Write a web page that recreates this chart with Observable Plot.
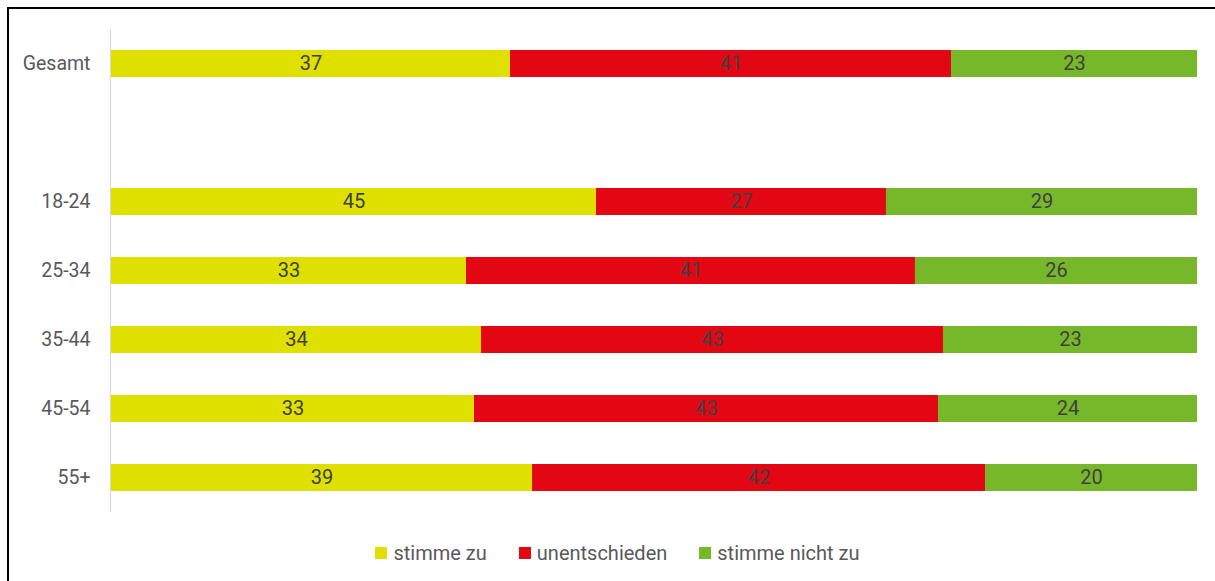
<!DOCTYPE html>
<html>
<head>
<meta charset="utf-8">
<script src="https://cdn.jsdelivr.net/npm/d3@7"></script>
<script src="https://cdn.jsdelivr.net/npm/@observablehq/plot@0.6"></script>
<style>
  html, body { margin: 0; padding: 0; background: #fff; width: 1215px; height: 581px; overflow: hidden; }
  #frame { position: absolute; left: 7px; top: 7px; width: 1210px; height: 580px; border-top: 2px solid #000; border-left: 2px solid #000; box-sizing: border-box; pointer-events: none; }
  #chart { position: absolute; left: 0; top: 0; }
  #legend { position: absolute; left: 10px; top: 541px; width: 1215px; display: flex; justify-content: center; align-items: center; font-family: Roboto, sans-serif; font-size: 20px; color: #595959; }
  #legend .item { display: flex; align-items: center; margin: 0 16px; }
  #legend .sw { width: 12px; height: 12px; margin-right: 6px; }
</style>
</head>
<body>
<div id="chart"></div>
<div id="legend"></div>
<div id="frame"></div>
<script>
const groups = ["Gesamt", "18-24", "25-34", "35-44", "45-54", "55+"];
const yDomain = ["Gesamt", " ", "18-24", "25-34", "35-44", "45-54", "55+"];
const seriesNames = ["stimme zu", "unentschieden", "stimme nicht zu"];
const seriesColors = ["#dfdf00", "#e30613", "#77b82a"];
// shares (labels show them rounded)
const stimmeZu = [36.74, 44.66, 32.69, 34.07, 33.43, 38.77];
const unentschieden = [40.61, 26.70, 41.34, 42.54, 42.73, 41.71];
const stimmeNichtZu = [22.65, 28.64, 25.97, 23.39, 23.85, 19.52];

const seriesValues = [stimmeZu, unentschieden, stimmeNichtZu];
const data = [];
groups.forEach((g, i) => {
  seriesNames.forEach((s, j) => {
    data.push({group: g, series: s, value: seriesValues[j][i]});
  });
});

const plot = Plot.plot({
  width: 1215,
  height: 520,
  marginLeft: 111,
  marginRight: 18,
  marginTop: 29,
  marginBottom: 8,
  style: {fontFamily: "Roboto, sans-serif", background: "transparent"},
  x: {axis: null},
  y: {domain: yDomain, paddingInner: 0.61, paddingOuter: 0.305, label: null},
  color: {domain: seriesNames, range: seriesColors},
  marks: [
    Plot.ruleX([0], {stroke: "#d9d9d9", strokeWidth: 1.2, dx: -1}),
    Plot.barX(data, Plot.stackX({x: "value", y: "group", fill: "series", z: "series", offset: "normalize", order: seriesNames})),
    Plot.text(data, Plot.stackX({x: "value", y: "group", z: "series", text: d => Math.round(d.value), offset: "normalize", order: seriesNames, fill: "#404040", fontSize: 20})),
    Plot.axisY({tickSize: 0, tickPadding: 21, fontSize: 19.5, color: "#595959", label: null})
  ]
});
document.getElementById("chart").appendChild(plot);

const colorScale = plot.scale("color");
const legend = document.getElementById("legend");
colorScale.domain.forEach((name, i) => {
  const item = document.createElement("div");
  item.className = "item";
  const sw = document.createElement("span");
  sw.className = "sw";
  sw.style.background = colorScale.range[i];
  const label = document.createElement("span");
  label.textContent = name;
  item.appendChild(sw);
  item.appendChild(label);
  legend.appendChild(item);
});
</script>
</body>
</html>
